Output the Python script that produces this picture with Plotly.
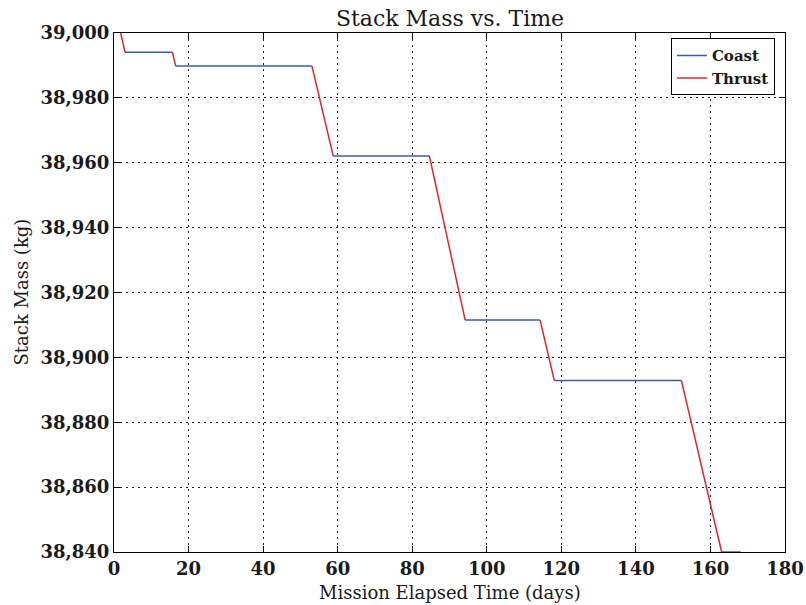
import plotly.graph_objects as go

# Breakpoints of the mission profile (days, kg)
times = [1.8, 2.95, 15.65, 16.55, 53.1, 58.8, 84.6, 94.2, 114.3, 118.1, 152.2, 163.0, 168.1]
mass = [39000, 38994.1, 38994.1, 38989.8, 38989.8, 38962.1, 38962.1,
        38911.5, 38911.5, 38892.9, 38892.9, 38840, 38840]
# phase of each segment between consecutive breakpoints
phases = ["Thrust", "Coast", "Thrust", "Coast", "Thrust", "Coast",
          "Thrust", "Coast", "Thrust", "Coast", "Thrust", "Coast"]

x_ticks = [0, 20, 40, 60, 80, 100, 120, 140, 160, 180]
y_ticks = [38840, 38860, 38880, 38900, 38920, 38940, 38960, 38980, 39000]

colors = {"Coast": "#3a5bb0", "Thrust": "#e8202e"}


def segs(phase):
    xs, ys = [], []
    for i, p in enumerate(phases):
        if p == phase:
            xs += [times[i], times[i + 1], None]
            ys += [mass[i], mass[i + 1], None]
    return xs, ys


fig = go.Figure()
for ph in ["Coast", "Thrust"]:
    xs, ys = segs(ph)
    fig.add_trace(go.Scatter(x=xs, y=ys, mode="lines", name=ph,
                             line=dict(color=colors[ph], width=1.5)))

font_family = "DejaVu Serif"
txt = "#1a1a1a"
fig.update_layout(
    width=806, height=605,
    margin=dict(l=114, r=21, t=33, b=53, autoexpand=False),
    paper_bgcolor="white", plot_bgcolor="white",
    font=dict(family=font_family, color=txt),
    title=dict(text="Stack Mass vs. Time", x=450 / 806, xanchor="center",
               yref="container", y=1 - 18 / 605, yanchor="middle",
               font=dict(size=22, family=font_family, color=txt)),
    showlegend=True,
    legend=dict(x=0.985, y=0.99, xanchor="right", yanchor="top",
                bordercolor="black", borderwidth=1, bgcolor="white",
                itemwidth=30,
                font=dict(size=15, family=font_family, color=txt, weight="bold"),
                tracegroupgap=0),
)
axis_common = dict(
    showline=True, linecolor="black", linewidth=1, mirror="ticks",
    ticks="inside", ticklen=6, tickcolor="black",
    showgrid=True, gridcolor="#222222", griddash="2px,4px", gridwidth=1,
    zeroline=False, automargin=False,
    tickfont=dict(size=18, family=font_family, color=txt, weight="bold"),
)
fig.update_xaxes(range=[0, 180], tickvals=x_ticks, ticktext=[str(v) for v in x_ticks],
                 **axis_common)
fig.update_yaxes(range=[38840, 39000], tickvals=y_ticks,
                 ticktext=[f"{v:,}" for v in y_ticks],
                 **axis_common)

fig.add_annotation(text="Mission Elapsed Time (days)", xref="paper", yref="paper",
                   x=0.5, y=-40 / 519, xanchor="center", yanchor="middle",
                   showarrow=False, font=dict(size=18, family=font_family, color=txt))
fig.add_annotation(text="Stack Mass (kg)", xref="paper", yref="paper",
                   x=-93 / 671, y=0.5, xanchor="center", yanchor="middle",
                   textangle=-90, showarrow=False,
                   font=dict(size=18, family=font_family, color=txt))

fig.write_html("out.html", config={"displayModeBar": False},
               post_script="document.body.style.margin='0';document.body.style.padding='0';")
